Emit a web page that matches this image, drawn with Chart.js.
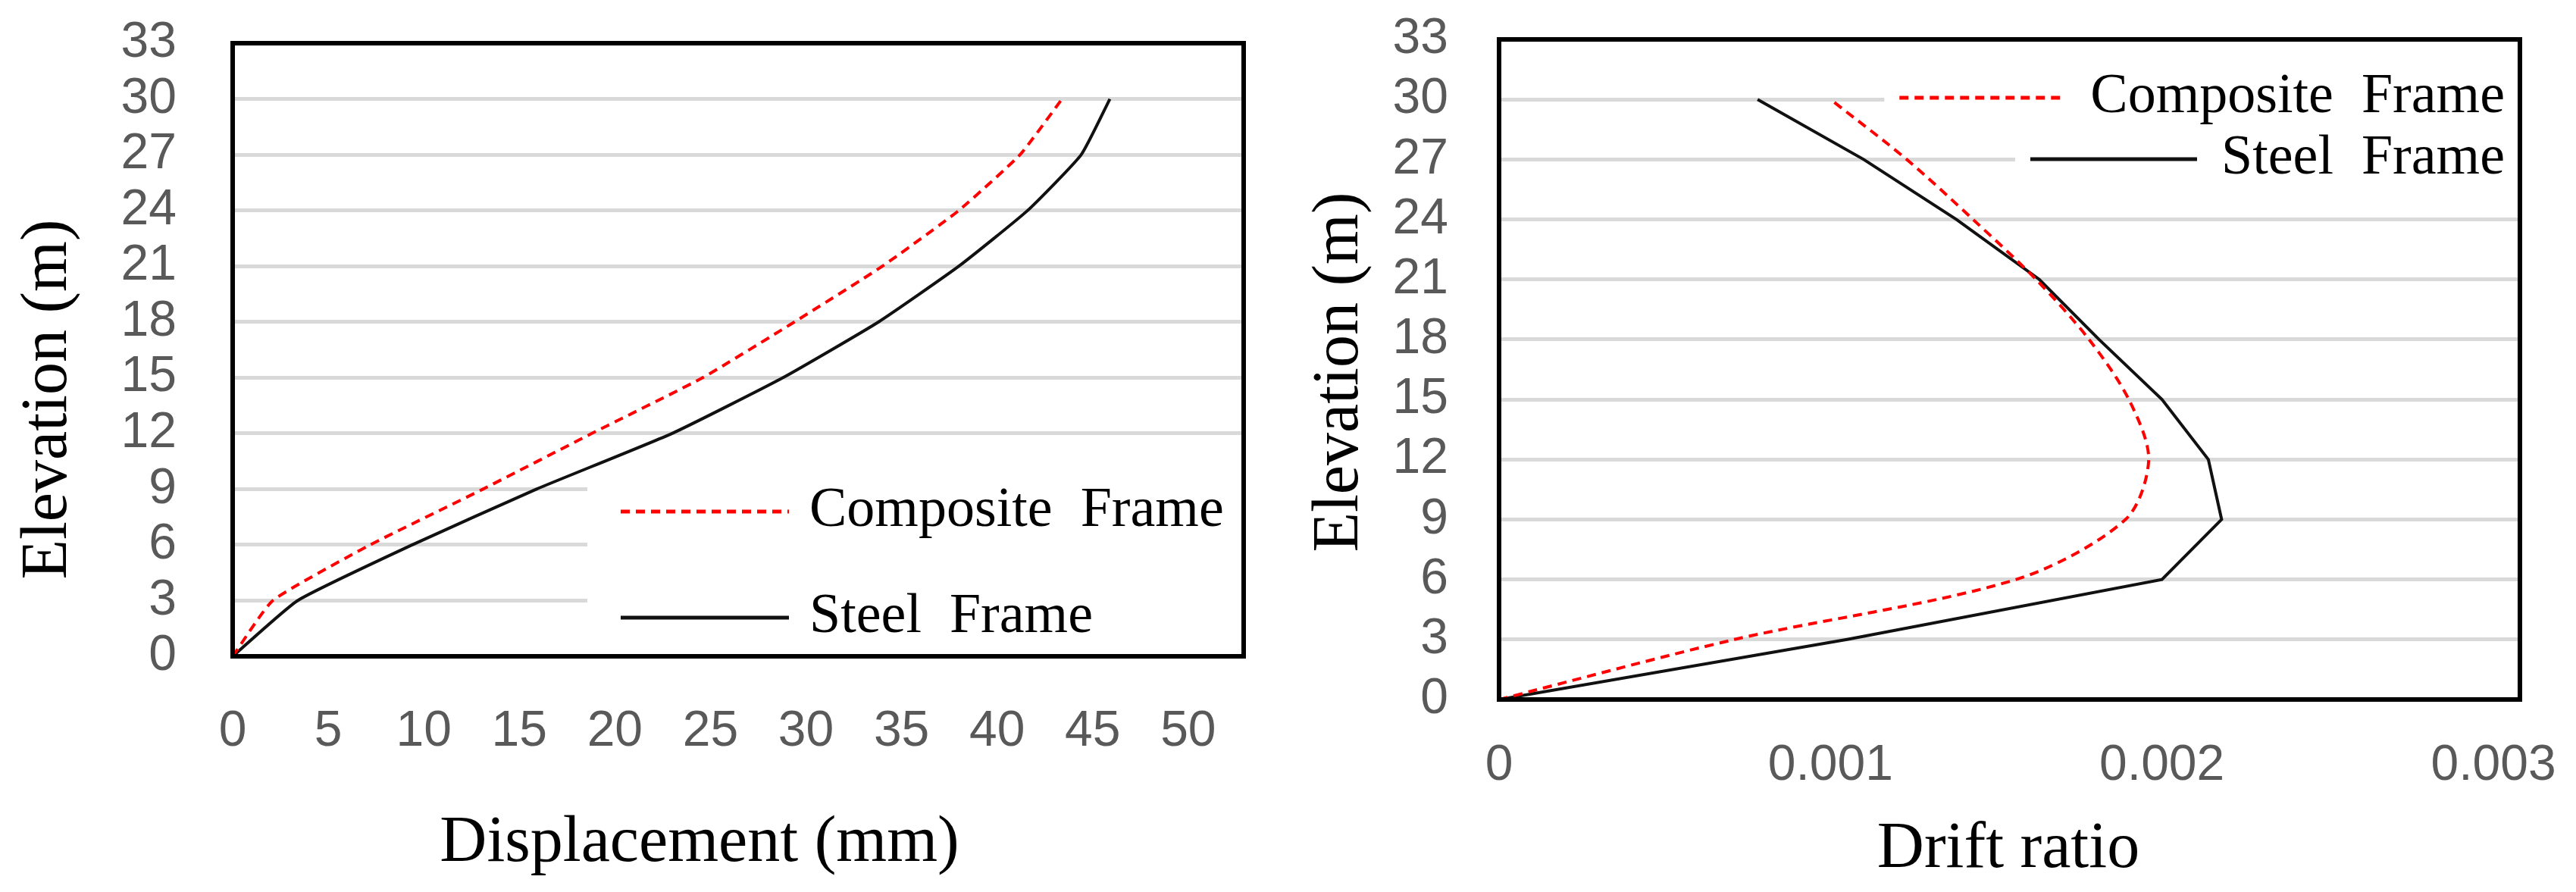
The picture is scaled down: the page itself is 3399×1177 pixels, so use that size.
<!DOCTYPE html>
<html>
<head>
<meta charset="utf-8">
<title>Displacement and drift ratio</title>
<script src="https://cdn.jsdelivr.net/npm/chart.js@4.4.0/dist/chart.umd.min.js"></script>
<style>
    html, body { margin: 0; padding: 0; background: #fff; }
    body { width: 3399px; height: 1177px; position: relative; overflow: hidden; }
    #disp-wrap { position: absolute; left: 0; top: 0; width: 1660px; height: 1177px; }
    #drift-wrap { position: absolute; left: 1660px; top: 0; width: 1739px; height: 1177px; }
</style>
</head>
<body>
<div id="disp-wrap"><canvas id="disp-chart" width="1660" height="1177"></canvas></div>
<div id="drift-wrap"><canvas id="drift-chart" width="1739" height="1177"></canvas></div>
<script>
// Storey elevations (m)
const elevations = [0, 3, 6, 9, 12, 15, 18, 21, 24, 27, 30];

// Lateral displacement (mm) at each elevation
const compositeDisp = [0, 2.1, 7.2, 13.1, 18.8, 24.6, 29.4, 34.0, 38.0, 41.2, 43.4];
const steelDisp = [0, 3.4, 9.4, 15.9, 23.0, 28.8, 33.8, 38.0, 41.6, 44.4, 45.9];

// Inter-storey drift ratio at each elevation
const compositeDrift = [0, 0.00071, 0.00156, 0.00189, 0.00196, 0.00190, 0.00178, 0.00162, 0.00143, 0.00123, 0.00100];
const steelDrift = [0, 0.00105, 0.00200, 0.00218, 0.00214, 0.00200, 0.00181, 0.00163, 0.00138, 0.00110, 0.00078];

// Tick labels
const elevationTicks = [0, 3, 6, 9, 12, 15, 18, 21, 24, 27, 30, 33];
const dispTicks = [0, 5, 10, 15, 20, 25, 30, 35, 40, 45, 50];
const driftTicks = [0, 0.001, 0.002, 0.003];

const seriesNames = ['Composite Frame', 'Steel Frame'];

const tickFont = { family: 'Liberation Sans', size: 66 };
const tickColor = '#595959';
const gridColor = '#d9d9d9';

// Black box round the plot area
const framePlugin = {
    id: 'frame',
    afterDraw(chart) {
        const a = chart.chartArea;
        const ctx = chart.ctx;
        ctx.save();
        ctx.strokeStyle = '#000';
        ctx.lineWidth = 6;
        ctx.strokeRect(a.left, a.top, a.right - a.left, a.bottom - a.top);
        ctx.restore();
    }
};

// Legend drawn inside the plot, like the original figure
const paperLegend = {
    id: 'paperLegend',
    beforeDatasetsDraw(chart, args, opts) {
        const ctx = chart.ctx;
        const a = chart.chartArea;
        const rows = layoutLegend(chart, opts);
        const half = (opts.rows[1] - opts.rows[0]) / 2;
        ctx.save();
        ctx.fillStyle = '#fff';
        rows.forEach(r => {
            const top = Math.max(a.top + 4, r.y - half);
            const bottom = Math.min(a.bottom - 4, r.y + half);
            const left = r.lineStart - opts.bgPad;
            ctx.fillRect(left, top, a.right - 3 - left, bottom - top);
        });
        ctx.restore();
    },
    afterDraw(chart, args, opts) {
        const ctx = chart.ctx;
        const rows = layoutLegend(chart, opts);
        ctx.save();
        rows.forEach(r => {
            const ds = chart.data.datasets[r.index];
            ctx.strokeStyle = ds.borderColor;
            ctx.lineWidth = 5;
            ctx.setLineDash(ds.borderDash || []);
            ctx.beginPath();
            ctx.moveTo(r.lineStart, r.y);
            ctx.lineTo(r.lineStart + opts.lineLen, r.y);
            ctx.stroke();
            ctx.setLineDash([]);
            ctx.fillStyle = '#000';
            ctx.font = opts.font;
            ctx.textAlign = 'left';
            ctx.textBaseline = 'middle';
            ctx.fillText(r.text, r.textStart, r.y);
        });
        ctx.restore();
    }
};

function layoutLegend(chart, opts) {
    const ctx = chart.ctx;
    ctx.save();
    ctx.font = opts.font;
    const rows = chart.data.datasets.map((ds, i) => {
        const text = ds.label.replace(' ', '  ');
        const w = ctx.measureText(text).width;
        let lineStart, textStart;
        if (opts.align === 'right') {
            textStart = opts.textRight - w;
            lineStart = textStart - opts.gap - opts.lineLen;
        } else {
            lineStart = opts.lineStart;
            textStart = lineStart + opts.lineLen + opts.gap;
        }
        return { index: i, text: text, y: opts.rows[i], lineStart: lineStart, textStart: textStart };
    });
    ctx.restore();
    return rows;
}

// Axis titles in the serif face of the original
const axisTitles = {
    id: 'axisTitles',
    afterDraw(chart, args, opts) {
        const ctx = chart.ctx;
        ctx.save();
        ctx.fillStyle = '#000';
        ctx.font = '86px "Liberation Serif"';
        ctx.textAlign = 'center';
        ctx.textBaseline = 'alphabetic';
        ctx.fillText(opts.x.text, opts.x.cx, opts.x.baseline);
        ctx.translate(opts.y.baseline, opts.y.cy);
        ctx.rotate(-Math.PI / 2);
        ctx.fillText(opts.y.text, 0, 0);
        ctx.restore();
    }
};

function seriesData(xs) {
    return elevations.map((e, i) => ({ x: xs[i], y: e }));
}

// tick labels may hang over the plot edges; keep them out of the layout
function noEdgePadding(s) {
    s.paddingTop = 0;
    s.paddingBottom = 0;
    s.paddingLeft = 0;
    s.paddingRight = 0;
}

function elevationScale(labelPad, width) {
    return {
        type: 'linear',
        min: 0,
        max: 33,
        afterBuildTicks: s => { s.ticks = elevationTicks.map(v => ({ value: v })); },
        grid: {
            color: c => (c.tick && (c.tick.value === 0 || c.tick.value === 33)) ? 'rgba(0,0,0,0)' : gridColor,
            lineWidth: 5,
            drawTicks: false
        },
        border: { display: false },
        ticks: { padding: labelPad, color: tickColor, font: tickFont, autoSkip: false },
        afterFit: s => { s.width = width; noEdgePadding(s); }
    };
}

// Displacement chart
new Chart(document.getElementById('disp-chart'), {
    type: 'scatter',
    data: {
        datasets: [
            {
                label: seriesNames[0],
                data: seriesData(compositeDisp),
                showLine: true,
                borderColor: '#ff0000',
                borderWidth: 4,
                borderDash: [12, 8],
                pointRadius: 0,
                tension: 0.15
            },
            {
                label: seriesNames[1],
                data: seriesData(steelDisp),
                showLine: true,
                borderColor: '#111111',
                borderWidth: 4,
                pointRadius: 0,
                tension: 0.15
            }
        ]
    },
    options: {
        responsive: false,
        animation: false,
        events: [],
        layout: { padding: { top: 57, right: 19, left: 0, bottom: 0 } },
        scales: {
            x: {
                type: 'linear',
                min: 0,
                max: 52.9,
                afterBuildTicks: s => { s.ticks = dispTicks.map(v => ({ value: v })); },
                grid: { display: false },
                border: { display: false },
                ticks: { padding: 52, color: tickColor, font: tickFont, maxRotation: 0, autoSkip: false },
                afterFit: s => { s.height = 311; noEdgePadding(s); }
            },
            y: elevationScale(74, 307)
        },
        plugins: {
            legend: { display: false },
            tooltip: { enabled: false },
            paperLegend: { align: 'left', lineStart: 819, rows: [675, 815], lineLen: 222, gap: 27, bgPad: 44, font: '74px "Liberation Serif"' },
            axisTitles: {
                x: { text: 'Displacement (mm)', cx: 923, baseline: 1136 },
                y: { text: 'Elevation (m)', cy: 527, baseline: 87 }
            }
        }
    },
    plugins: [paperLegend, framePlugin, axisTitles]
});

// Drift ratio chart
new Chart(document.getElementById('drift-chart'), {
    type: 'scatter',
    data: {
        datasets: [
            {
                label: seriesNames[0],
                data: seriesData(compositeDrift),
                showLine: true,
                borderColor: '#ff0000',
                borderWidth: 4,
                borderDash: [12, 8],
                pointRadius: 0,
                tension: 0.3
            },
            {
                label: seriesNames[1],
                data: seriesData(steelDrift),
                showLine: true,
                borderColor: '#111111',
                borderWidth: 4,
                pointRadius: 0,
                tension: 0
            }
        ]
    },
    options: {
        responsive: false,
        animation: false,
        events: [],
        layout: { padding: { top: 52, right: 74, left: 0, bottom: 0 } },
        scales: {
            x: {
                type: 'linear',
                min: 0,
                max: 0.00308,
                afterBuildTicks: s => { s.ticks = driftTicks.map(v => ({ value: v })); },
                grid: { display: false },
                border: { display: false },
                ticks: {
                    padding: 40,
                    color: tickColor,
                    font: tickFont,
                    maxRotation: 0,
                    autoSkip: false,
                    callback: v => v === 0 ? '0' : v.toFixed(3)
                },
                afterFit: s => { s.height = 254; noEdgePadding(s); }
            },
            y: elevationScale(67, 318)
        },
        plugins: {
            legend: { display: false },
            tooltip: { enabled: false },
            paperLegend: { align: 'right', textRight: 1645, rows: [129, 210], lineLen: 220, gap: 32, bgPad: 20, font: '74px "Liberation Serif"' },
            axisTitles: {
                x: { text: 'Drift ratio', cx: 990, baseline: 1144 },
                y: { text: 'Elevation (m)', cy: 491, baseline: 131 }
            }
        }
    },
    plugins: [paperLegend, framePlugin, axisTitles]
});
</script>
</body>
</html>
